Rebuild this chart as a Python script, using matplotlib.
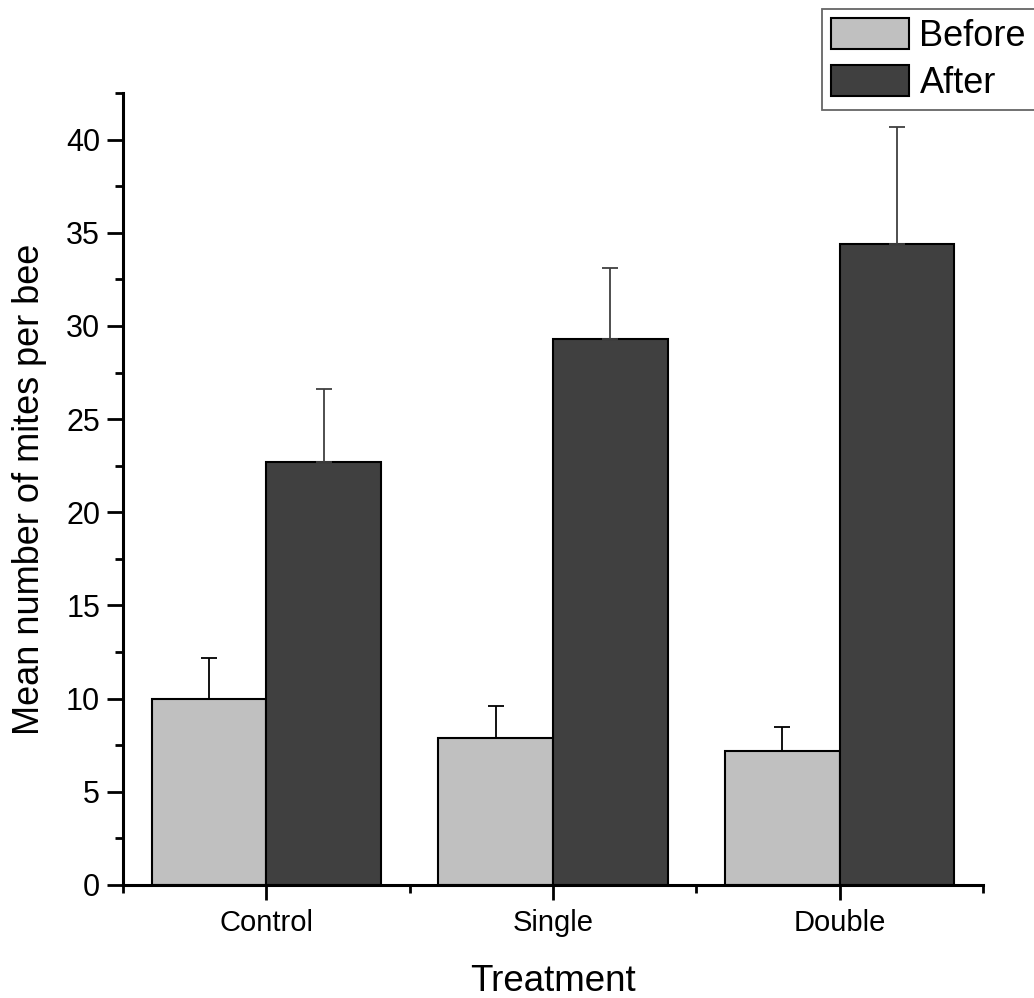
import matplotlib
matplotlib.use("Agg")
import matplotlib.pyplot as plt
import numpy as np
from matplotlib.ticker import MultipleLocator, FixedLocator

plt.rcParams['font.family'] = ['Liberation Sans', 'DejaVu Sans']

categories = ["Control", "Single", "Double"]
before_mean = [10.0, 7.9, 7.2]
before_err = [2.2, 1.7, 1.3]
after_mean = [22.7, 29.3, 34.4]
after_err = [3.9, 3.8, 6.3]
series_names = ["Before", "After"]

W, H = 1034, 998
fig = plt.figure(figsize=(W / 100, H / 100), dpi=100)
ax = fig.add_axes([123 / W, 1 - 885 / H, (983 - 123) / W, (885 - 93) / H])

x = np.arange(1, len(categories) + 1)
bw = 0.4
ax.bar(x - bw / 2, before_mean, bw, color="#c0c0c0", edgecolor="black", linewidth=1.5,
       yerr=[np.zeros(3), before_err], error_kw=dict(ecolor="black", elinewidth=1.3, capsize=5.5, capthick=1.3),
       label=series_names[0], zorder=2)
ax.bar(x + bw / 2, after_mean, bw, color="#404040", edgecolor="black", linewidth=1.5,
       yerr=[np.zeros(3), after_err], error_kw=dict(ecolor="#404040", elinewidth=1.3, capsize=5.5, capthick=1.3),
       label=series_names[1], zorder=2)

ax.set_xlim(0.5, 3.5)
ax.set_ylim(0, 42.5)
ax.set_xticks(x)
ax.set_xticklabels(categories, fontsize=21)
ax.xaxis.set_minor_locator(FixedLocator([0.5, 1.5, 2.5, 3.5]))
ax.yaxis.set_major_locator(MultipleLocator(5))
ax.yaxis.set_minor_locator(MultipleLocator(2.5))
ax.tick_params(axis='y', which='major', length=11.5, width=2, labelsize=22, pad=5)
ax.tick_params(axis='y', which='minor', length=6, width=2)
ax.tick_params(axis='x', which='major', length=11, width=2, pad=6)
ax.tick_params(axis='x', which='minor', length=6, width=2)
for s in ["top", "right"]:
    ax.spines[s].set_visible(False)
for s in ["left", "bottom"]:
    ax.spines[s].set_linewidth(2.2)

ax.set_xlabel("Treatment", fontsize=26.5, labelpad=20)
ax.set_ylabel("Mean number of mites per bee", fontsize=26, labelpad=14)

leg = fig.legend(loc='upper left', bbox_to_anchor=(822 / W, 1 - 9 / H), fontsize=26,
                 frameon=True, fancybox=False, edgecolor="#404040", handlelength=2.15,
                 handleheight=0.95, handletextpad=0.3, labelspacing=0.3, borderpad=0.25,
                 borderaxespad=0)
leg.get_frame().set_linewidth(1.3)

fig.savefig("out.png", dpi=100)
